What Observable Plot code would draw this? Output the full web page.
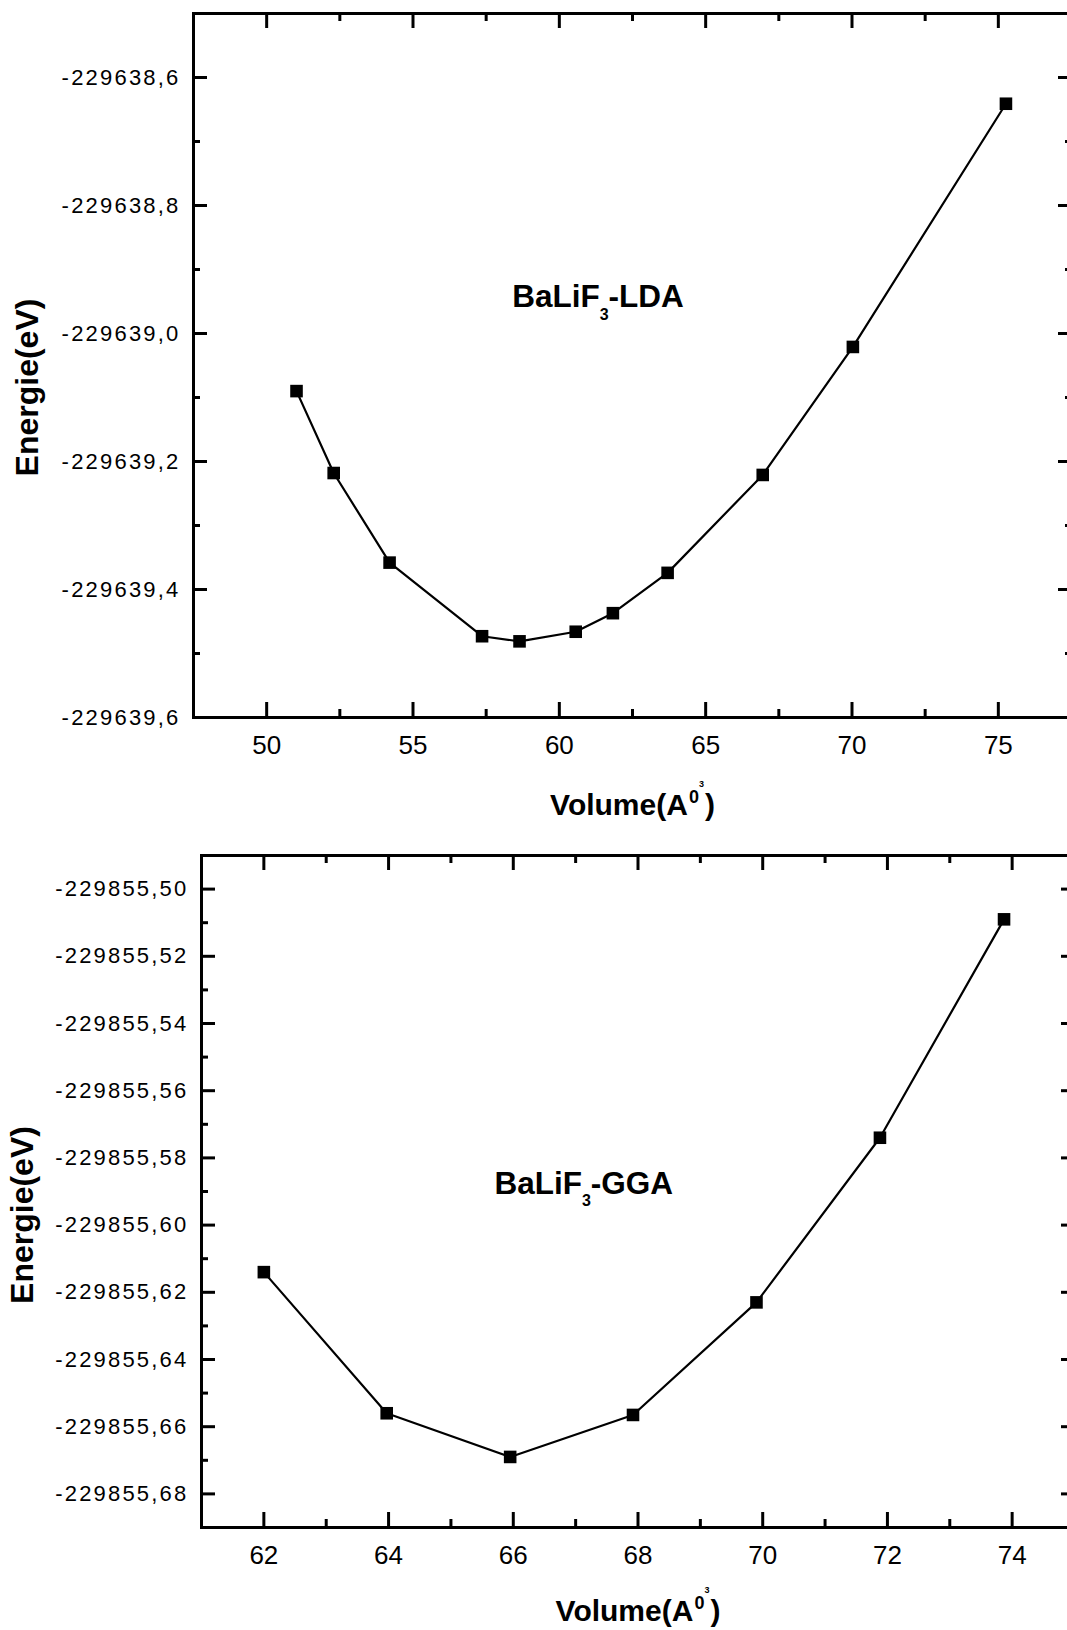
<!DOCTYPE html>
<html><head><meta charset="utf-8">
<script src="https://cdn.jsdelivr.net/npm/d3@7"></script>
<script src="https://cdn.jsdelivr.net/npm/@observablehq/plot@0.6"></script>
<style>
html,body{margin:0;padding:0;background:#fff;overflow:hidden}
#wrap{width:1067px;height:1630px;overflow:hidden;position:relative;background:#fff}
#wrap svg{display:block;max-width:none !important;}
</style></head><body><div id="wrap"></div>
<script>
// ---- Data ----
const ldaVolume = [51.02, 52.29, 54.20, 57.36, 58.64, 60.56, 61.83, 63.70, 66.95, 70.03, 75.26];
const ldaEnergy = [-229639.090, -229639.218, -229639.358, -229639.473, -229639.481, -229639.466, -229639.437, -229639.374, -229639.221, -229639.021, -229638.641];
const ggaVolume = [62.00, 63.97, 65.95, 67.92, 69.90, 71.88, 73.87];
const ggaEnergy = [-229855.614, -229855.656, -229855.669, -229855.6565, -229855.623, -229855.574, -229855.509];

// ---- Ticks ----
const ldaXMajor = [50, 55, 60, 65, 70, 75];
const ldaXMinor = [47.5, 52.5, 57.5, 62.5, 67.5, 72.5, 77.5];
const ldaYMajor = [-229638.6, -229638.8, -229639.0, -229639.2, -229639.4, -229639.6];
const ldaYMinor = [-229638.5, -229638.7, -229638.9, -229639.1, -229639.3, -229639.5];
const ggaXMajor = [62, 64, 66, 68, 70, 72, 74];
const ggaXMinor = [61, 63, 65, 67, 69, 71, 73, 75];
const ggaYMajor = [-229855.50, -229855.52, -229855.54, -229855.56, -229855.58, -229855.60, -229855.62, -229855.64, -229855.66, -229855.68];
const ggaYMinor = [-229855.49, -229855.51, -229855.53, -229855.55, -229855.57, -229855.59, -229855.61, -229855.63, -229855.65, -229855.67, -229855.69];

// ---- Texts ----
const yTitle = "Energie(eV)";
const xTitleParts = ["Volume(A", "0", "3", ")"];
const ldaAnnoParts = ["BaLiF", "3", "-LDA"];
const ggaAnnoParts = ["BaLiF", "3", "-GGA"];
const ldaAnnoPos = {x: 61.32, y: -229638.943};
const ggaAnnoPos = {x: 67.13, y: -229855.5876};

const FONT = "'Liberation Sans', Arial, Helvetica, sans-serif";

function makePlot(cfg) {
  const rows = cfg.vol.map((v, i) => ({v, e: cfg.en[i]}));
  const fmt = d => d.toFixed(cfg.dec).replace(".", ",");
  const blank = () => "";
  const xTitle = xTitleParts.join("");
  const anno = cfg.anno.join("");
  const svg = Plot.plot({
    width: 1075, height: cfg.height,
    marginTop: cfg.mt, marginBottom: cfg.mb, marginLeft: cfg.ml, marginRight: cfg.mr,
    style: {fontFamily: FONT, color: "black", background: "white", overflow: "visible", maxWidth: "none"},
    x: {domain: cfg.xd},
    y: {domain: cfg.yd},
    marks: [
      Plot.frame({stroke: "black", strokeWidth: 3}),
      Plot.axisX(cfg.xMaj, {anchor: "bottom", tickSize: -15, tickPadding: 33, strokeWidth: 3, fontSize: 26, tickFormat: d => String(d), label: null}),
      Plot.axisX(cfg.xMin, {anchor: "bottom", tickSize: -8, strokeWidth: 3, tickFormat: blank, label: null}),
      Plot.axisX(cfg.xMaj, {anchor: "top", tickSize: -14, strokeWidth: 3, tickFormat: blank, label: null}),
      Plot.axisX(cfg.xMin, {anchor: "top", tickSize: -7, strokeWidth: 3, tickFormat: blank, label: null}),
      Plot.axisY(cfg.yMaj, {anchor: "left", tickSize: -14, tickPadding: 27, strokeWidth: 3, fontSize: 22, tickFormat: fmt, label: null}),
      Plot.axisY(cfg.yMin, {anchor: "left", tickSize: -7, strokeWidth: 3, tickFormat: blank, label: null}),
      Plot.axisY(cfg.yMaj, {anchor: "right", tickSize: -14, strokeWidth: 3, tickFormat: blank, label: null}),
      Plot.axisY(cfg.yMin, {anchor: "right", tickSize: -7, strokeWidth: 3, tickFormat: blank, label: null}),
      Plot.line(rows, {x: "v", y: "e", stroke: "black", strokeWidth: 2.2}),
      Plot.dot(rows, {x: "v", y: "e", symbol: "square", fill: "black", stroke: "none", r: 7.1}),
      Plot.text([anno], {x: () => cfg.annoPos.x, y: () => cfg.annoPos.y, text: d => d, fontSize: 31.5, fontWeight: "bold", fill: "black", textAnchor: "middle", lineAnchor: "middle"}),
      Plot.text([yTitle], {frameAnchor: "left", rotate: -90, dx: cfg.ytdx, dy: cfg.ytdy, text: d => d, fontSize: 32, fontWeight: "bold", fill: "black", textAnchor: "middle", lineAnchor: "middle"}),
      Plot.text([xTitle], {frameAnchor: "bottom", dy: cfg.xtdy, text: d => d, fontSize: 30, fontWeight: "bold", fill: "black", textAnchor: "middle", lineAnchor: "middle"})
    ]
  });
  // rich text: subscript / superscript
  svg.querySelectorAll("text").forEach(t => {
    if (t.textContent === anno) {
      t.innerHTML = `${cfg.anno[0]}<tspan dy="12.5" font-size="16">${cfg.anno[1]}</tspan><tspan dy="-12.5">${cfg.anno[2]}</tspan>`;
    } else if (t.textContent === xTitle) {
      t.innerHTML = `${xTitleParts[0]}<tspan dx="1" dy="-12" font-size="18">${xTitleParts[1]}</tspan><tspan dy="-16" font-size="9">${xTitleParts[2]}</tspan><tspan dx="1" dy="28">${xTitleParts[3]}</tspan>`;
    }
  });
  svg.querySelectorAll('g[aria-label="y-axis tick label"] text').forEach(t => t.style.letterSpacing = "2.2px");
  return svg;
}

const wrap = document.getElementById("wrap");
wrap.appendChild(makePlot({
  vol: ldaVolume, en: ldaEnergy, dec: 1, height: 830,
  mt: 13, mb: 113, ml: 193, mr: 4,
  xd: [47.5, 77.5], yd: [-229639.6, -229638.5],
  xMaj: ldaXMajor, xMin: ldaXMinor, yMaj: ldaYMajor, yMin: ldaYMinor,
  anno: ldaAnnoParts, annoPos: ldaAnnoPos,
  ytdx: -166, ytdy: 22, xtdy: 88
}));
wrap.appendChild(makePlot({
  vol: ggaVolume, en: ggaEnergy, dec: 2, height: 800,
  mt: 25, mb: 103, ml: 201, mr: 1,
  xd: [61, 75], yd: [-229855.69, -229855.49],
  xMaj: ggaXMajor, xMin: ggaXMinor, yMaj: ggaYMajor, yMin: ggaYMinor,
  anno: ggaAnnoParts, annoPos: ggaAnnoPos,
  ytdx: -179, ytdy: 23.5, xtdy: 84
}));
</script>
</body></html>
